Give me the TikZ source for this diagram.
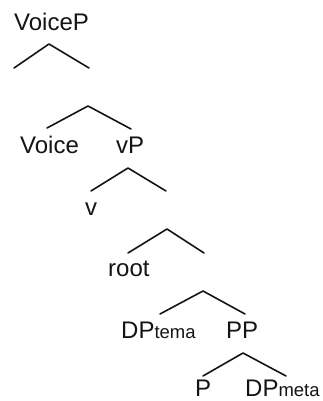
\documentclass[tikz,border=0pt]{standalone}
\usepackage{fontspec}
\setmainfont{Liberation Sans}
\usepackage{tikz}
\usetikzlibrary{positioning}
\definecolor{InkBlack}{RGB}{20, 20, 20}

\tikzset{
    etiqueta/.style={anchor=base west, inner sep=0pt, text=InkBlack,
        font=\fontsize{24}{28}\selectfont},
    rama/.style={InkBlack, line width=1.6pt, line cap=round, line join=round}
}
\newcommand{\subind}[1]{{\fontsize{18.5}{22}\selectfont #1}}

\begin{document}
\begin{tikzpicture}[x=1pt, y=-1pt]
    \useasboundingbox (0,0) rectangle (323,401);

    % VoiceP
    \node[etiqueta] (voicep) at (14,31) {VoiceP};
    \coordinate (r1) at (49,44);
    \coordinate (r1i) at (14,68);
    \coordinate (r1d) at (89,68);
    \draw[rama] (r1i) -- (r1) -- (r1d);

    % Voice y vP
    \coordinate (r2) at (88,106);
    \coordinate (r2i) at (47,128);
    \coordinate (r2d) at (131,129);
    \draw[rama] (r2i) -- (r2) -- (r2d);
    \node[etiqueta] (voice) at (20,153) {Voice};
    \node[etiqueta] (vp) at (116,153) {vP};

    % v
    \coordinate (r3) at (128,168);
    \coordinate (r3i) at (91,191);
    \coordinate (r3d) at (166,191);
    \draw[rama] (r3i) -- (r3) -- (r3d);
    \node[etiqueta] (v) at (85,215) {v};

    % root
    \coordinate (r4) at (167,229);
    \coordinate (r4i) at (128,253);
    \coordinate (r4d) at (204,253);
    \draw[rama] (r4i) -- (r4) -- (r4d);
    \node[etiqueta] (root) at (108,276) {root};

    % DP tema y PP
    \coordinate (r5) at (203,291);
    \coordinate (r5i) at (160,314);
    \coordinate (r5d) at (245,314);
    \draw[rama] (r5i) -- (r5) -- (r5d);
    \node[etiqueta] (dptema) at (121,338) {DP\subind{tema}};
    \node[etiqueta] (pp) at (226,338) {PP};

    % P y DP meta
    \coordinate (r6) at (243,353);
    \coordinate (r6i) at (203,376);
    \coordinate (r6d) at (286,376);
    \draw[rama] (r6i) -- (r6) -- (r6d);
    \node[etiqueta] (p) at (195,396) {P};
    \node[etiqueta] (dpmeta) at (245,396) {DP\subind{meta}};
\end{tikzpicture}
\end{document}
